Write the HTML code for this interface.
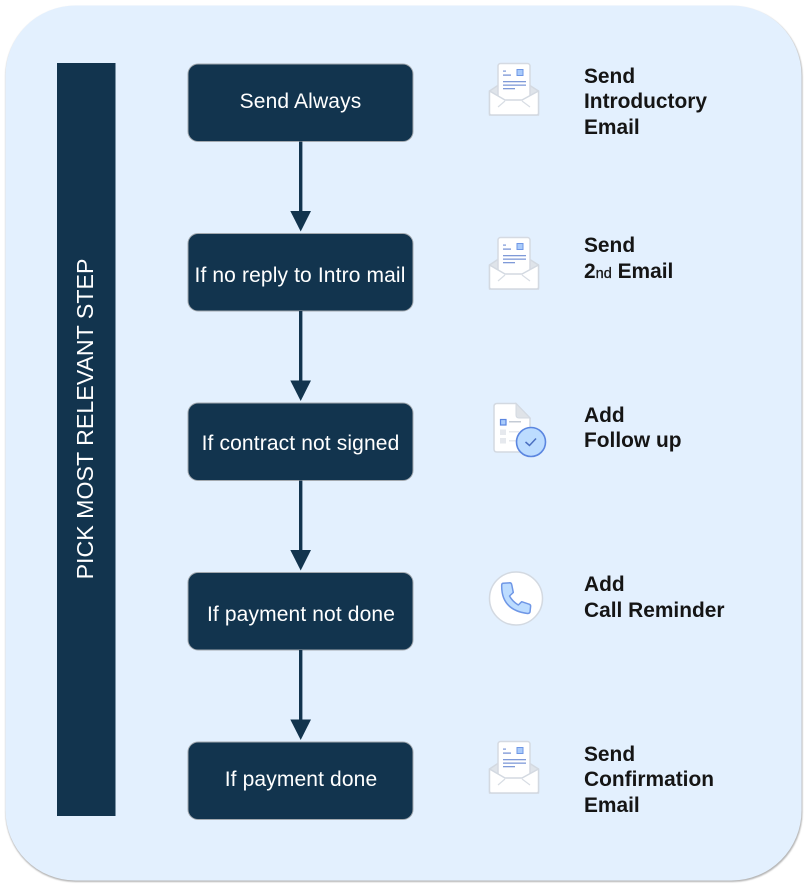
<!DOCTYPE html>
<html>
<head>
<meta charset="utf-8">
<style>
html,body{margin:0;padding:0;background:#fff;}
svg{display:block;}
text{font-family:"Liberation Sans",Arial,sans-serif;}
.b{font-size:21px;fill:#fff;text-anchor:middle;letter-spacing:.13px;}
.l{font-size:20.900px;font-weight:bold;fill:#151515;}
</style>
</head>
<body>
<svg width="807" height="887" viewBox="0 0 807 887" xmlns="http://www.w3.org/2000/svg">
<defs>
<filter id="s" x="-2%" y="-2%" width="104%" height="104%">
<feGaussianBlur stdDeviation="0.8"/>
</filter>
<symbol id="mail" width="60" height="60" viewBox="0 0 60 60" overflow="visible">
<path d="M0.500 28 L24.500 12 L49.500 28 L49.500 52 L0.500 52 Z" fill="#dfe4ea" stroke="#d3d9e1" stroke-width="1.500" stroke-linejoin="round"/>
<rect x="9" y="0.500" width="32" height="48" rx="2.500" fill="#fff" stroke="#d5dae2" stroke-width="1.500"/>
<rect x="14" y="7.500" width="3" height="1.200" fill="#7a96d8"/>
<rect x="14" y="11.500" width="8" height="1.200" fill="#6f8cd2"/>
<rect x="28" y="6.500" width="6" height="6" fill="#a9cbfb" stroke="#6f97e6" stroke-width="1"/>
<rect x="14" y="18" width="23" height="1.300" fill="#7f9ad8"/>
<rect x="14" y="21.500" width="23" height="1.300" fill="#7f9ad8"/>
<rect x="14" y="25" width="12" height="1.300" fill="#7f9ad8"/>
<path d="M0.500 28 L16 37 L33 37 L49.500 28 L49.500 50 Q49.500 52 47.500 52 L2.500 52 Q0.500 52 0.500 50 Z" fill="#fff" stroke="#d3d9e1" stroke-width="1.500" stroke-linejoin="round"/>
<path d="M9 44 L16 38 M41 44 L33 38" stroke="#d8dde4" stroke-width="1.200" fill="none"/>
</symbol>
</defs>

<rect x="5.500" y="6.500" width="797" height="875.500" rx="70" fill="#b5b5b5" filter="url(#s)"/>
<rect x="5.500" y="5.500" width="796" height="875" rx="70" fill="#e3f0fe"/>

<rect x="57" y="63" width="58.500" height="753" fill="#12344e"/>
<text transform="translate(93,419) rotate(-90)" text-anchor="middle" font-size="23.200" fill="#fff">PICK MOST RELEVANT STEP</text>

<g fill="#12344e" stroke="#a3a9af" stroke-width="1">
<rect x="188" y="64" width="225" height="77.500" rx="10"/>
<rect x="188" y="233.500" width="225" height="77.500" rx="10"/>
<rect x="188" y="403" width="225" height="77.500" rx="10"/>
<rect x="188" y="572.500" width="225" height="77.500" rx="10"/>
<rect x="188" y="742" width="225" height="77.500" rx="10"/>
</g>

<g fill="#12344e">
<rect x="299" y="141.500" width="3.400" height="70"/>
<path d="M290.300 211 H311 L300.700 231.500 Z"/>
<rect x="299" y="311" width="3.400" height="70"/>
<path d="M290.300 380.500 H311 L300.700 401 Z"/>
<rect x="299" y="480.500" width="3.400" height="70"/>
<path d="M290.300 550 H311 L300.700 570.500 Z"/>
<rect x="299" y="650" width="3.400" height="70"/>
<path d="M290.300 719.500 H311 L300.700 740 Z"/>
</g>

<text class="b" x="300.500" y="108">Send Always</text>
<text class="b" x="300" y="282">If no reply to Intro mail</text>
<text class="b" x="300.500" y="450">If contract not signed</text>
<text class="b" x="301" y="621">If payment not done</text>
<text class="b" x="301" y="786">If payment done</text>

<use href="#mail" x="489" y="63" width="60" height="60"/>
<use href="#mail" x="489" y="237" width="60" height="60"/>
<use href="#mail" x="489" y="741" width="60" height="60"/>

<path d="M497 403.500 H516 L530 418 V449 Q530 452 527 452 H497 Q494 452 494 449 V406.500 Q494 403.500 497 403.500 Z" fill="#fff" stroke="#d3d9e1" stroke-width="1.500"/>
<path d="M516 403.500 L530 418 H519 Q516 418 516 415 Z" fill="#dfe3e8" stroke="#d3d9e1" stroke-width="1"/>
<rect x="500.500" y="419.500" width="5.500" height="5.500" fill="#a9cbfb" stroke="#5b86e0" stroke-width="1.200"/>
<rect x="509" y="421" width="12" height="1.500" fill="#c4cbd5"/>
<rect x="500" y="429.500" width="6" height="5.500" fill="#e6e9ee"/>
<rect x="509" y="431" width="10" height="1.500" fill="#e6e9ee"/>
<rect x="500" y="438" width="6" height="5.500" fill="#e6e9ee"/>
<rect x="509" y="440" width="10" height="1.500" fill="#e6e9ee"/>
<circle cx="531" cy="442" r="14.500" fill="#bcdcff" stroke="#5b86e0" stroke-width="1.600"/>
<path d="M525.500 442 L529.500 445.500 L536 438.500" fill="none" stroke="#4a6fc0" stroke-width="1.500"/>

<circle cx="516" cy="598.500" r="26.500" fill="#fff" stroke="#d3d9e1" stroke-width="1.500"/>
<path d="M503 583.300 L510 582.800 Q511.500 583 511.800 585 L513.300 592.500 L509.500 596 Q512.500 601.500 518.300 605 L521.700 601.700 L529.500 604.300 Q530.800 605 530.600 606.500 L530 612 Q529.500 613.500 527.500 613.500 Q501 610 501.700 585 Q501.800 583.500 503 583.300 Z" fill="#bcdcff" stroke="#6f97e6" stroke-width="1.500" stroke-linejoin="round"/>

<text class="l" x="584" y="83">Send</text>
<text class="l" x="584" y="108">Introductory</text>
<text class="l" x="584" y="134">Email</text>

<text class="l" x="584" y="252">Send</text>
<text class="l" x="584" y="278">2<tspan font-size="14.500" font-weight="normal" stroke="#151515" stroke-width="0.300">nd</tspan> Email</text>

<text class="l" x="584" y="422">Add</text>
<text class="l" x="584" y="447">Follow up</text>

<text class="l" x="584" y="591">Add</text>
<text class="l" x="584" y="617">Call Reminder</text>

<text class="l" x="584" y="761">Send</text>
<text class="l" x="584" y="786">Confirmation</text>
<text class="l" x="584" y="812">Email</text>
</svg>
</body>
</html>
